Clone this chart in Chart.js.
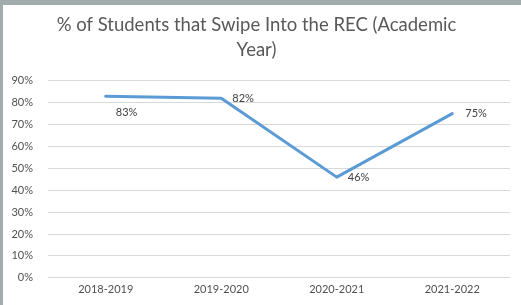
<!DOCTYPE html>
<html>
<head>
<meta charset="utf-8">
<script src="https://cdn.jsdelivr.net/npm/chart.js@4/dist/chart.umd.min.js"></script>
<style>
  html, body { margin: 0; padding: 0; background: #a3acad; overflow: hidden; }
  #wrap { position: absolute; left: 3px; top: 5px; width: 518px; height: 300px; background: #fff; overflow: hidden; }
</style>
</head>
<body>
<div id="wrap"><canvas id="swipeChart" width="528" height="300"></canvas></div>
<script>
// chart data
const years = ['2018-2019', '2019-2020', '2020-2021', '2021-2022'];
const swipePct = [83, 82, 46, 75];
const yTicks = [0, 10, 20, 30, 40, 50, 60, 70, 80, 90];

// label offsets next to each point (x, y), like the excel layout
const labelShift = [[10, 16], [11, 0], [11, 0], [13, 0]];

// small plugin to write the value labels, no datalabels plugin offline
const valueLabels = {
  id: 'valueLabels',
  afterDatasetsDraw(chart) {
    const c = chart.ctx;
    const meta = chart.getDatasetMeta(0);
    c.save();
    c.font = '11px Lato, "Liberation Sans", sans-serif';
    c.fillStyle = '#404040';
    c.textAlign = 'left';
    c.textBaseline = 'middle';
    meta.data.forEach((pt, i) => {
      c.fillText(swipePct[i] + '%', pt.x + labelShift[i][0], pt.y + labelShift[i][1]);
    });
    c.restore();
  }
};

const ctx = document.getElementById('swipeChart').getContext('2d');
new Chart(ctx, {
  type: 'line',
  data: {
    labels: years,
    datasets: [{
      data: swipePct,
      borderColor: '#5b9bd5',
      borderWidth: 3,
      tension: 0,
      pointRadius: 0,
      borderCapStyle: 'round',
      borderJoinStyle: 'round'
    }]
  },
  options: {
    responsive: false,
    animation: false,
    // canvas is 10px wider than the white box so the title sits a bit right
    layout: { padding: { left: 0, right: 21, top: 0, bottom: 4 } },
    plugins: {
      legend: { display: false },
      tooltip: { enabled: false },
      title: {
        display: true,
        text: ['% of Students that Swipe Into the REC (Academic', 'Year)'],
        color: '#595959',
        font: { family: 'Lato, "Liberation Sans", sans-serif', size: 18.5, weight: 'normal', lineHeight: 1.32 },
        padding: { top: 8, bottom: 19 }
      }
    },
    scales: {
      x: {
        offset: true,
        grid: { display: false, drawTicks: false },
        border: { display: false },
        ticks: {
          padding: 5,
          color: '#505050',
          font: { family: 'Lato, "Liberation Sans", sans-serif', size: 11 }
        }
      },
      y: {
        min: 0,
        max: 90,
        afterFit(scale) { scale.width = 45; },
        afterBuildTicks(scale) { scale.ticks = yTicks.map(v => ({ value: v })); },
        grid: { color: '#d9d9d9', drawTicks: false },
        border: { display: false },
        ticks: {
          padding: 15,
          color: '#505050',
          font: { family: 'Lato, "Liberation Sans", sans-serif', size: 11 },
          callback: v => v + '%'
        }
      }
    }
  },
  plugins: [valueLabels]
});
</script>
</body>
</html>
